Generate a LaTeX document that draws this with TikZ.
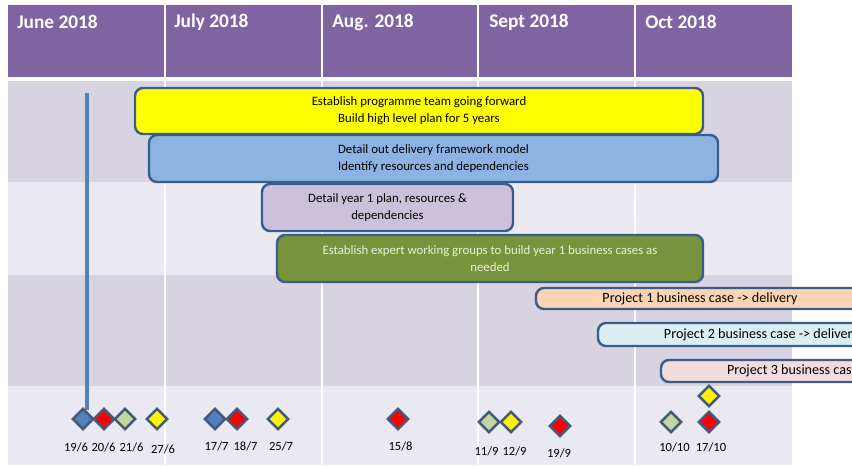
\documentclass[tikz,border=0pt]{standalone}
\usepackage{fontspec}
\setmainfont{Carlito}
\usetikzlibrary{shapes.geometric,fit}
\definecolor{hdrpurple}{HTML}{8064A2}
\definecolor{rowdark}{HTML}{D7D3E1}
\definecolor{rowlight}{HTML}{EAE8F0}
\definecolor{barline}{HTML}{385D8A}
\definecolor{msline}{HTML}{41597A}
\definecolor{msblue}{HTML}{4F81BD}
\definecolor{msgreen}{HTML}{C3D69B}
\definecolor{baryellow}{HTML}{FFFF00}
\definecolor{barblue}{HTML}{8DB3E2}
\definecolor{barlilac}{HTML}{CCC1DA}
\definecolor{bargreen}{HTML}{77933C}
\definecolor{barpeach}{HTML}{FBD4B4}
\definecolor{barsky}{HTML}{DBEEF4}
\definecolor{barpink}{HTML}{F2DCDB}
\definecolor{bartext}{HTML}{EBF1DE}
\begin{document}
\begin{tikzpicture}
    [x=0.75pt, y=-0.75pt,
     month/.style={anchor=west, text=white, font=\bfseries\fontsize{14.5}{16}\selectfont, inner sep=0pt},
     bar/.style={draw=barline, line width=1.8pt, rounded corners=6pt, inner sep=0pt},
     bartxt/.style={align=center, inner sep=0pt, font=\fontsize{9.6}{12.8}\selectfont},
     projtxt/.style={inner sep=0pt, font=\fontsize{10.6}{12}\selectfont},
     ms/.style={diamond, draw=msline, line width=1.8pt, minimum size=16pt, inner sep=0pt},
     lbl/.style={font=\fontsize{9.4}{11}\selectfont, inner sep=0pt}]
    \useasboundingbox (0,0) rectangle (852,465);
    \clip (0,0) rectangle (852,465);
    % Define table
    \fill[hdrpurple] (8,5) rectangle (792,77);
    \fill[rowdark] (8,81) rectangle (792,182);
    \fill[rowlight] (8,182) rectangle (792,275);
    \fill[rowdark] (8,275) rectangle (792,386);
    \fill[rowlight] (8,386) rectangle (792,465);
    \foreach \x in {165,322,478,635}
        \draw[white, line width=0.8pt] (\x,5) -- (\x,465);
    \node[month] (jun) at (17,22) {June 2018};
    \node[month] (jul) at (174,22) {July 2018};
    \node[month] (aug) at (332,22) {Aug. 2018};
    \node[month] (sep) at (489,22) {Sept 2018};
    \node[month] (oct) at (645,22) {Oct 2018};
    % Define vertical marker
    \coordinate (vtop) at (87,93);
    \coordinate (vbot) at (87,410);
    \draw[msblue, line width=2.6pt] (vtop) -- (vbot);
    % Define bars
    \node[bar, fill=baryellow, fit={(135,88) (703,134)}] (b1) {};
    \node[bar, fill=barblue, fit={(149,135) (718,182)}] (b2) {};
    \node[bar, fill=barlilac, fit={(262,184) (513,231)}] (b3) {};
    \node[bar, fill=bargreen, fit={(277,235) (703,282)}] (b4) {};
    \node[bar, fill=barpeach, fit={(536,288) (864,309)}] (p1) {};
    \node[bar, fill=barsky, fit={(598,323) (925,346)}] (p2) {};
    \node[bar, fill=barpink, fit={(661,360) (988,382)}] (p3) {};
    \node[bartxt] (b1t) at (b1.center) {Establish programme  team going forward\\Build high level plan for 5 years};
    \node[bartxt] (b2t) at (b2.center) {Detail out delivery framework  model\\Identify resources and dependencies};
    \node[bartxt] (b3t) at (b3.center) {Detail year 1 plan, resources \&\\dependencies};
    \node[bartxt, text=bartext] (b4t) at (b4.center) {Establish expert working  groups to build year 1 business cases as\\needed};
    \node[projtxt] (p1t) at (p1.center) {Project  1 business case -> delivery};
    \node[projtxt] (p2t) at (p2.center) {Project  2 business case -> delivery};
    \node[projtxt] (p3t) at (p3.center) {Project  3 business case -> delivery};
    % Define milestones
    \node[ms, fill=msblue] (m1) at (83,419) {};
    \node[ms, fill=red] (m2) at (104,419) {};
    \node[ms, fill=msgreen] (m3) at (125,419) {};
    \node[ms, fill=yellow] (m4) at (157,419) {};
    \node[ms, fill=msblue] (m5) at (215,419) {};
    \node[ms, fill=red] (m6) at (237,419) {};
    \node[ms, fill=yellow] (m7) at (278,419) {};
    \node[ms, fill=red] (m8) at (398,419) {};
    \node[ms, fill=msgreen] (m9) at (489,422) {};
    \node[ms, fill=yellow] (m10) at (511,422) {};
    \node[ms, fill=red] (m11) at (560,426) {};
    \node[ms, fill=msgreen] (m12) at (671,422) {};
    \node[ms, fill=red] (m13) at (709,422) {};
    \node[ms, fill=yellow] (m14) at (709,396) {};
    % Define dates
    \node[lbl] (d1) at (76,447) {19/6};
    \node[lbl] (d2) at (103.5,447) {20/6};
    \node[lbl] (d3) at (131.5,447) {21/6};
    \node[lbl] (d4) at (163,449) {27/6};
    \node[lbl] (d5) at (216.5,446) {17/7};
    \node[lbl] (d6) at (245.5,446) {18/7};
    \node[lbl] (d7) at (281,446) {25/7};
    \node[lbl] (d8) at (400.5,446) {15/8};
    \node[lbl] (d9) at (486.5,451) {11/9};
    \node[lbl] (d10) at (514.5,451) {12/9};
    \node[lbl] (d11) at (559,453) {19/9};
    \node[lbl] (d12) at (674.5,447) {10/10};
    \node[lbl] (d13) at (711,447) {17/10};
\end{tikzpicture}
\end{document}
